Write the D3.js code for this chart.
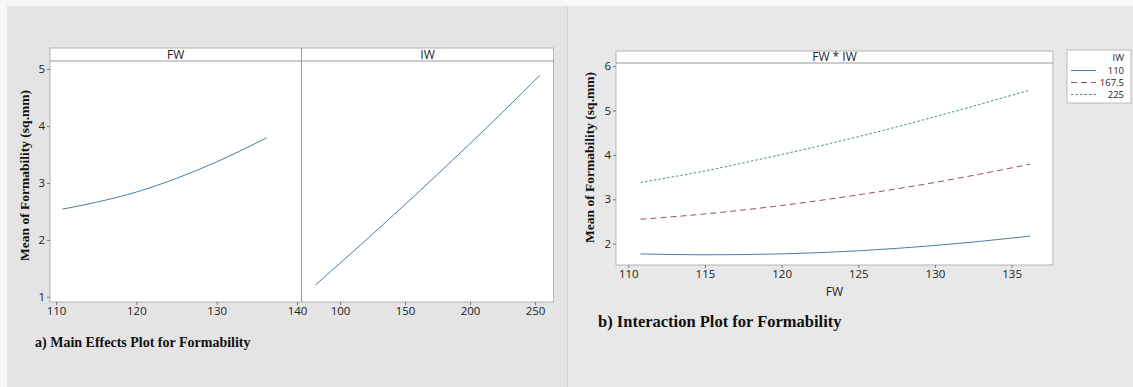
<!DOCTYPE html>
<html>
<head>
<meta charset="utf-8">
<script src="https://cdn.jsdelivr.net/npm/d3@7"></script>
<style>
  html, body { margin: 0; padding: 0; background: #e6e6e6; }
  svg { display: block; }
  .tick text { font-family: "Open Sans", "Noto Sans", sans-serif; font-size: 11.5px; fill: #222; }
  .tick line { stroke: #777; }
</style>
</head>
<body>
<svg id="chart" width="1133" height="387"></svg>
<script>
// ---- Data ----
const fwLevels = [110.8, 115, 120, 125, 130, 136.2];
const fwMain = [2.54, 2.66, 2.84, 3.08, 3.37, 3.79];
const iwLevels = [81.2, 100, 125, 150, 175, 200, 225, 253.8];
const iwMain = [1.21, 1.59, 2.10, 2.62, 3.15, 3.69, 4.24, 4.89];
const iwSeriesNames = ["110", "167.5", "225"];
const inter110 = [1.77, 1.75, 1.77, 1.84, 1.96, 2.17];
const inter167 = [2.55, 2.67, 2.86, 3.10, 3.38, 3.79];
const inter225 = [3.38, 3.64, 4.01, 4.41, 4.86, 5.46];
const yTicksMain = [1, 2, 3, 4, 5];
const fwTicksMain = [110, 120, 130, 140];
const iwTicksMain = [100, 150, 200, 250];
const yTicksInter = [2, 3, 4, 5, 6];
const fwTicksInter = [110, 115, 120, 125, 130, 135];

const svg = d3.select("#chart");
const serif = "'Liberation Serif', 'Times New Roman', serif";
const sans = "'Open Sans', 'Noto Sans', sans-serif";

// ---- Background ----
svg.append("rect").attr("x", 0).attr("y", 0).attr("width", 1133).attr("height", 387).attr("fill", "#f7f7f7");
svg.append("rect").attr("x", 7).attr("y", 6).attr("width", 560).attr("height", 381).attr("fill", "#e4e4e4");
svg.append("rect").attr("x", 568).attr("y", 6).attr("width", 565).attr("height", 381).attr("fill", "#e8e8e8");
svg.append("line").attr("x1", 567.5).attr("x2", 567.5).attr("y1", 6).attr("y2", 387).attr("stroke", "#d2d2d2");

const lineGen = (x, y) => d3.line().x(d => x(d[0])).y(d => y(d[1])).curve(d3.curveMonotoneX);

// ---- Left: Main effects ----
const L = { left: 50, right: 553.5, top: 48, strip: 61, bottom: 302, mid: 301.5 };
const yL = d3.scaleLinear().domain([0.91, 5.14]).range([L.bottom, L.strip]);
const xFW = d3.scaleLinear().domain([109.25, 140.56]).range([L.left, L.mid]);
const xIW = d3.scaleLinear().domain([70.4, 264.2]).range([L.mid, L.right]);

const gL = svg.append("g");
gL.append("rect").attr("x", L.left).attr("y", L.top).attr("width", L.right - L.left).attr("height", L.bottom - L.top)
  .attr("fill", "#fff").attr("stroke", "#b4b4b4");
gL.append("line").attr("x1", L.left).attr("x2", L.right).attr("y1", L.strip).attr("y2", L.strip).attr("stroke", "#9a9a9a");
gL.append("line").attr("x1", L.mid).attr("x2", L.mid).attr("y1", L.top).attr("y2", L.bottom).attr("stroke", "#9a9a9a");
gL.append("text").attr("x", (L.left + L.mid) / 2).attr("y", 55).attr("dy", "0.35em").attr("text-anchor", "middle")
  .style("font-family", sans).style("font-size", "12px").attr("fill", "#222").text("FW");
gL.append("text").attr("x", (L.mid + L.right) / 2).attr("y", 55).attr("dy", "0.35em").attr("text-anchor", "middle")
  .style("font-family", sans).style("font-size", "12px").attr("fill", "#222").text("IW");

gL.append("g").attr("transform", `translate(${L.left},0)`)
  .call(d3.axisLeft(yL).tickValues(yTicksMain).tickSize(3).tickPadding(2).tickFormat(d3.format("d")))
  .call(g => g.select(".domain").remove());
gL.append("g").attr("transform", `translate(0,${L.bottom})`)
  .call(d3.axisBottom(xFW).tickValues(fwTicksMain).tickSize(3).tickPadding(2).tickFormat(d3.format("d")))
  .call(g => g.select(".domain").remove());
gL.append("g").attr("transform", `translate(0,${L.bottom})`)
  .call(d3.axisBottom(xIW).tickValues(iwTicksMain).tickSize(3).tickPadding(2).tickFormat(d3.format("d")))
  .call(g => g.select(".domain").remove());

gL.append("path").datum(fwLevels.map((v, i) => [v, fwMain[i]]))
  .attr("d", lineGen(xFW, yL)).attr("fill", "none").attr("stroke", "#4a7ea6").attr("stroke-width", 1);
gL.append("path").datum(iwLevels.map((v, i) => [v, iwMain[i]]))
  .attr("d", lineGen(xIW, yL)).attr("fill", "none").attr("stroke", "#4a7ea6").attr("stroke-width", 1);

gL.append("text").attr("transform", "translate(29,175.5) rotate(-90)").attr("text-anchor", "middle")
  .style("font-family", serif).style("font-size", "13.5px").style("font-weight", "bold").attr("fill", "#111")
  .text("Mean of Formability (sq.mm)");
gL.append("text").attr("x", 35).attr("y", 347)
  .style("font-family", serif).style("font-size", "14px").style("font-weight", "bold").attr("fill", "#111")
  .text("a) Main Effects Plot for Formability");

// ---- Right: Interaction ----
const R = { left: 616, right: 1053, top: 51, strip: 63, bottom: 265 };
const yR = d3.scaleLinear().domain([1.52, 6.07]).range([R.bottom, R.strip]);
const xR = d3.scaleLinear().domain([109.2, 137.7]).range([R.left, R.right]);

const gR = svg.append("g");
gR.append("rect").attr("x", R.left).attr("y", R.top).attr("width", R.right - R.left).attr("height", R.bottom - R.top)
  .attr("fill", "#fff").attr("stroke", "#b4b4b4");
gR.append("line").attr("x1", R.left).attr("x2", R.right).attr("y1", R.strip).attr("y2", R.strip).attr("stroke", "#9a9a9a");
gR.append("text").attr("x", (R.left + R.right) / 2).attr("y", 57).attr("dy", "0.35em").attr("text-anchor", "middle")
  .style("font-family", sans).style("font-size", "12px").attr("fill", "#222").text("FW * IW");

gR.append("g").attr("transform", `translate(${R.left},0)`)
  .call(d3.axisLeft(yR).tickValues(yTicksInter).tickSize(3).tickPadding(2).tickFormat(d3.format("d")))
  .call(g => g.select(".domain").remove());
gR.append("g").attr("transform", `translate(0,${R.bottom})`)
  .call(d3.axisBottom(xR).tickValues(fwTicksInter).tickSize(3).tickPadding(2).tickFormat(d3.format("d")))
  .call(g => g.select(".domain").remove());

const series = [
  { name: iwSeriesNames[0], values: inter110, color: "#4a7ea6", dash: null },
  { name: iwSeriesNames[1], values: inter167, color: "#a04a5e", dash: "6,4" },
  { name: iwSeriesNames[2], values: inter225, color: "#3f9a66", dash: "2.5,2" }
];
series.forEach(s => {
  gR.append("path").datum(fwLevels.map((v, i) => [v, s.values[i]]))
    .attr("d", lineGen(xR, yR)).attr("fill", "none").attr("stroke", s.color).attr("stroke-width", 1)
    .attr("stroke-dasharray", s.dash);
});

gR.append("text").attr("x", (R.left + R.right) / 2).attr("y", 292).attr("dy", "0.35em").attr("text-anchor", "middle")
  .style("font-family", sans).style("font-size", "12px").attr("fill", "#222").text("FW");
gR.append("text").attr("transform", "translate(594,157.5) rotate(-90)").attr("text-anchor", "middle")
  .style("font-family", serif).style("font-size", "13.5px").style("font-weight", "bold").attr("fill", "#111")
  .text("Mean of Formability (sq.mm)");
gR.append("text").attr("x", 598).attr("y", 327)
  .style("font-family", serif).style("font-size", "16.5px").style("font-weight", "bold").attr("fill", "#111")
  .text("b) Interaction Plot for Formability");

// Legend
const lg = svg.append("g");
lg.append("rect").attr("x", 1067).attr("y", 50).attr("width", 64).attr("height", 53).attr("fill", "#fff").attr("stroke", "#bcbcbc");
lg.append("text").attr("x", 1124).attr("y", 58).attr("dy", "0.35em").attr("text-anchor", "end")
  .style("font-family", sans).style("font-size", "9.5px").attr("fill", "#222").text("IW");
const legY = d3.scalePoint().domain(iwSeriesNames).range([70.5, 94.5]);
series.forEach(s => {
  lg.append("line").attr("x1", 1071).attr("x2", 1096).attr("y1", legY(s.name)).attr("y2", legY(s.name))
    .attr("stroke", s.color).attr("stroke-width", 1).attr("stroke-dasharray", s.dash);
  lg.append("text").attr("x", 1124).attr("y", legY(s.name)).attr("dy", "0.35em").attr("text-anchor", "end")
    .style("font-family", sans).style("font-size", "9.5px").attr("fill", "#222").text(s.name);
});
</script>
</body>
</html>
